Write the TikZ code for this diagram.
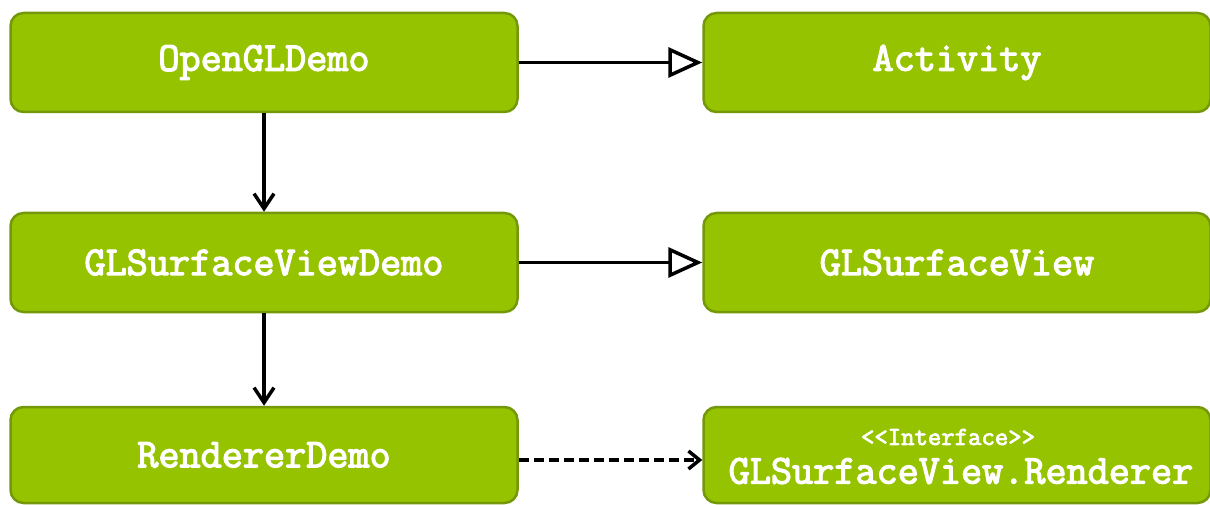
\documentclass[tikz,border=0pt]{standalone}
\usepackage{fontspec}
\newfontfamily\codefont{Latin Modern Mono}[FakeBold=3]
\usetikzlibrary{arrows.meta}
\definecolor{boxfill}{HTML}{96C300}
\definecolor{boxline}{HTML}{74980A}
\tikzset{
  cls/.style={draw=boxline, line width=2.5pt, fill=boxfill, rounded corners=13pt,
    minimum width=507pt, minimum height=99pt, inner sep=0pt, text=white,
    font=\codefont\fontsize{41}{42}\selectfont, align=center},
  inherit/.style={line width=3.5pt, -{Triangle[open, length=34pt, width=30pt, line width=3.5pt]}},
  assoc/.style={line width=3.5pt, -{Straight Barb[length=15pt, width=20pt, line width=3.5pt]}},
  realize/.style={line width=3.5pt, dash pattern=on 10pt off 5pt, -{Straight Barb[length=11pt, width=18pt, line width=3.5pt]}}
}
\begin{document}
\begin{tikzpicture}[x=1pt, y=-1pt]
\useasboundingbox (0,0) rectangle (1210,505);
\node[cls] (open) at (264,62.5) {OpenGLDemo};
\node[cls] (act) at (957,62.5) {Activity};
\node[cls] (glsvd) at (264,262.5) {GLSurfaceViewDemo};
\node[cls] (glsv) at (957,262.5) {GLSurfaceView};
\node[cls, minimum height=96pt] (rend) at (264,455) {RendererDemo};
\node[cls, minimum height=96pt] (iface) at (957,455) {};
\node[text=white, font=\codefont\fontsize{26}{27}\selectfont] (ilabel) at (948,437) {<<Interface>>};
\node[text=white, font=\codefont\fontsize{41}{42}\selectfont] (rlabel) at (961,471) {GLSurfaceView.Renderer};
\draw[inherit] (open.east) -- (act.west);
\draw[inherit] (glsvd.east) -- (glsv.west);
\draw[assoc] (open.south) -- (glsvd.north);
\draw[assoc] (glsvd.south) -- (rend.north);
\draw[realize] (rend.east |- 0,460) -- (iface.west |- 0,460);
\end{tikzpicture}
\end{document}
